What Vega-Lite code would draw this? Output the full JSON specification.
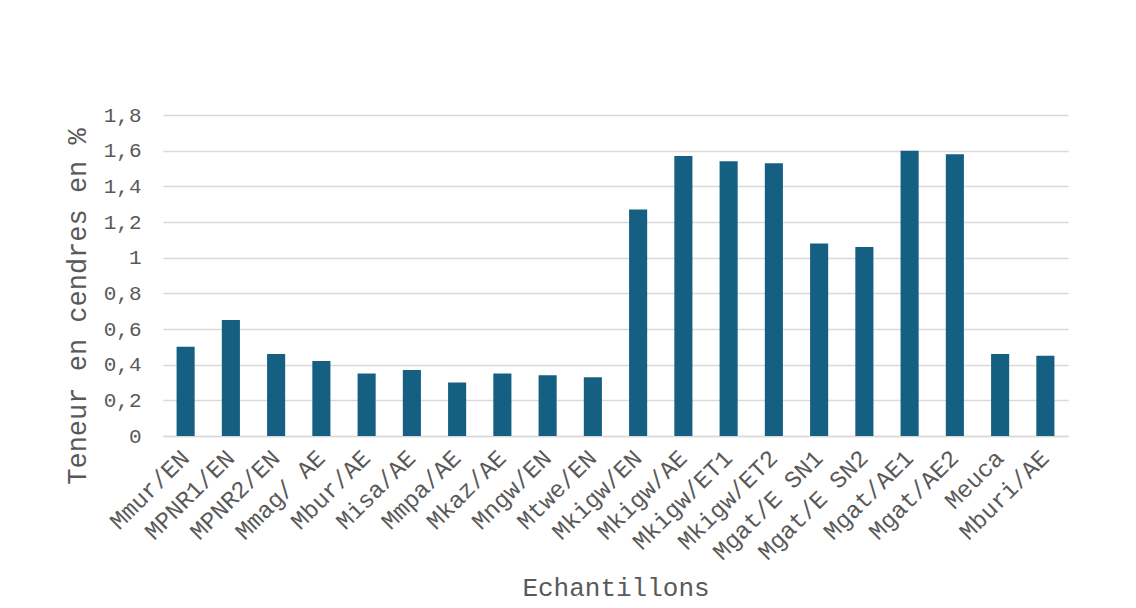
{
  "$schema": "https://vega.github.io/schema/vega-lite/v6.json",
  "autosize": {"type": "none"},
  "width": 905,
  "height": 321,
  "padding": {"left": 163, "top": 115, "right": 68, "bottom": 172},
  "background": "white",
  "config": {
    "view": {"stroke": null},
    "font": "Liberation Mono"
  },
  "data": {
    "values": [
      {"echantillon": "Mmur/EN", "teneur": 0.50},
      {"echantillon": "MPNR1/EN", "teneur": 0.65},
      {"echantillon": "MPNR2/EN", "teneur": 0.46},
      {"echantillon": "Mmag/  AE", "teneur": 0.42},
      {"echantillon": "Mbur/AE", "teneur": 0.35},
      {"echantillon": "Misa/AE", "teneur": 0.37},
      {"echantillon": "Mmpa/AE", "teneur": 0.30},
      {"echantillon": "Mkaz/AE", "teneur": 0.35},
      {"echantillon": "Mngw/EN", "teneur": 0.34},
      {"echantillon": "Mtwe/EN", "teneur": 0.33},
      {"echantillon": "Mkigw/EN", "teneur": 1.27},
      {"echantillon": "Mkigw/AE", "teneur": 1.57},
      {"echantillon": "Mkigw/ET1", "teneur": 1.54},
      {"echantillon": "Mkigw/ET2", "teneur": 1.53},
      {"echantillon": "Mgat/E SN1", "teneur": 1.08},
      {"echantillon": "Mgat/E SN2", "teneur": 1.06},
      {"echantillon": "Mgat/AE1", "teneur": 1.60},
      {"echantillon": "Mgat/AE2", "teneur": 1.58},
      {"echantillon": "Meuca", "teneur": 0.46},
      {"echantillon": "Mburi/AE", "teneur": 0.45}
    ]
  },
  "mark": {"type": "bar", "color": "#156082"},
  "encoding": {
    "x": {
      "field": "echantillon",
      "type": "nominal",
      "sort": null,
      "scale": {"paddingInner": 0.6, "paddingOuter": 0.3},
      "axis": {
        "title": "Echantillons",
        "titleFont": "Liberation Mono",
        "titleFontSize": 26,
        "titleFontWeight": "normal",
        "titleColor": "#595959",
        "titlePadding": 10,
        "labelAngle": -45,
        "labelAlign": "right",
        "labelBaseline": "middle",
        "labelFont": "Liberation Mono",
        "labelFontSize": 24,
        "labelColor": "#595959",
        "labelPadding": 18,
        "ticks": false,
        "domainColor": "#d9d9d9",
        "domainWidth": 1.5,
        "labelLimit": 300
      }
    },
    "y": {
      "field": "teneur",
      "type": "quantitative",
      "scale": {"domain": [0, 1.8], "nice": false},
      "axis": {
        "title": "Teneur en cendres en %",
        "titleFont": "Liberation Mono",
        "titleFontSize": 27,
        "titleFontWeight": "normal",
        "titleColor": "#595959",
        "titlePadding": 12,
        "titleY": 191,
        "values": [0, 0.2, 0.4, 0.6, 0.8, 1, 1.2, 1.4, 1.6, 1.8],
        "format": ".1~f",
        "labelExpr": "replace(datum.label, '.', ',')",
        "labelFont": "Liberation Mono",
        "labelFontSize": 21,
        "labelColor": "#595959",
        "labelPadding": 22,
        "ticks": false,
        "domain": false,
        "gridColor": "#d9d9d9",
        "gridWidth": 1.5
      }
    }
  }
}
